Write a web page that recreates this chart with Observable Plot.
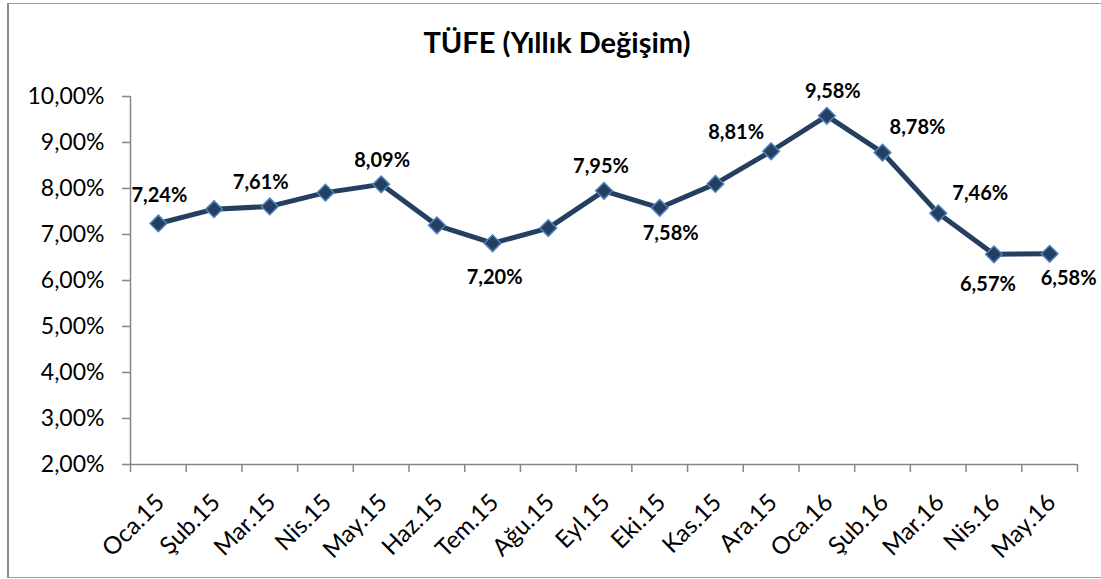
<!DOCTYPE html>
<html><head><meta charset="utf-8">
<script src="https://cdn.jsdelivr.net/npm/d3@7"></script>
<script src="https://cdn.jsdelivr.net/npm/@observablehq/plot@0.6"></script>
<style>
body{margin:0;background:#fff;}
#wrap{position:relative;width:1101px;height:579px;overflow:hidden;font-family:Lato,sans-serif;}
#border{position:absolute;left:7px;top:3px;width:1120px;height:575px;border:1.5px solid #a0a0a0;border-left:2px solid #8c8c8c;box-sizing:border-box;}
#title{position:absolute;left:0;top:25px;width:1101px;padding-left:13px;box-sizing:border-box;text-align:center;font-weight:bold;font-size:29px;color:#000;line-height:34px;}
#chart svg{position:absolute;left:0;top:0;}
</style></head><body>
<div id="wrap"><div id="border"></div><div id="title">TÜFE (Yıllık Değişim)</div><div id="chart"></div></div>
<script>
const months = ["Oca.15","Şub.15","Mar.15","Nis.15","May.15","Haz.15","Tem.15","Ağu.15","Eyl.15","Eki.15","Kas.15","Ara.15","Oca.16","Şub.16","Mar.16","Nis.16","May.16"];
const values = [7.24,7.55,7.61,7.91,8.09,7.20,6.81,7.14,7.95,7.58,8.10,8.81,9.58,8.78,7.46,6.57,6.58];
const yTicks = [2,3,4,5,6,7,8,9,10];
const labelMonths = ["Oca.15","Mar.15","May.15","Tem.15","Eyl.15","Eki.15","Ara.15","Oca.16","Şub.16","Mar.16","Nis.16","May.16"];
const labelTexts = ["7,24%","7,61%","8,09%","7,20%","7,95%","7,58%","8,81%","9,58%","8,78%","7,46%","6,57%","6,58%"];
// label placement (pixel offsets from the point), layout only
const labelOffsets = [[1,-28],[-9,-24],[1,-24],[2,34],[-3,-24],[11,26],[-35,-19],[6,-24],[35,-25],[42,-20],[-6,30],[19,25]];

const fmt = v => v.toFixed(2).replace(".", ",") + "%";
const data = months.map((m, i) => ({i, m, v: values[i]}));
const bounds = d3.range(months.length + 1).map(i => i - 0.5);
const axisColor = "#868686";

const labelMarks = labelMonths.map((m, k) => {
  const i = months.indexOf(m);
  return Plot.text([{i, v: values[i], t: labelTexts[k]}], {
    x: "i", y: "v", text: "t",
    dx: labelOffsets[k][0], dy: labelOffsets[k][1],
    fontWeight: "bold", fontSize: 20, fill: "#000"
  });
});

const chart = Plot.plot({
  width: 1101, height: 579,
  marginLeft: 130, marginRight: 24, marginTop: 96, marginBottom: 115,
  style: {fontFamily: "Lato, sans-serif", fontSize: "22px", color: "#000", background: "transparent", overflow: "visible"},
  x: {domain: [-0.5, months.length - 0.5], axis: null, label: null},
  y: {domain: [2, 10], axis: null, label: null},
  marks: [
    Plot.ruleY([2], {stroke: axisColor, strokeWidth: 1.5}),
    Plot.ruleX([-0.5], {stroke: axisColor, strokeWidth: 1.5}),
    Plot.axisY(yTicks, {tickFormat: fmt, tickSize: 8, tickPadding: 18, stroke: axisColor, fill: "#000", fontSize: 23, strokeWidth: 1.5, label: null}),
    Plot.axisX(bounds, {tickSize: 8, tickFormat: () => "", stroke: axisColor, strokeWidth: 1.5, label: null}),
    Plot.axisX(d3.range(months.length), {tickFormat: i => months[i], tickSize: 0, tickPadding: 34, dx: 2, tickRotate: -45, fill: "#000", fontSize: 24, label: null}),
    Plot.line(data, {x: "i", y: "v", stroke: "#243F60", strokeWidth: 5}),
    Plot.dot(data, {x: "i", y: "v", symbol: "diamond2", r: 7.5, fill: "#243F60", stroke: "#4F81BD", strokeWidth: 1.5}),
    ...labelMarks
  ]
});
document.getElementById("chart").appendChild(chart);
</script>
</body></html>
